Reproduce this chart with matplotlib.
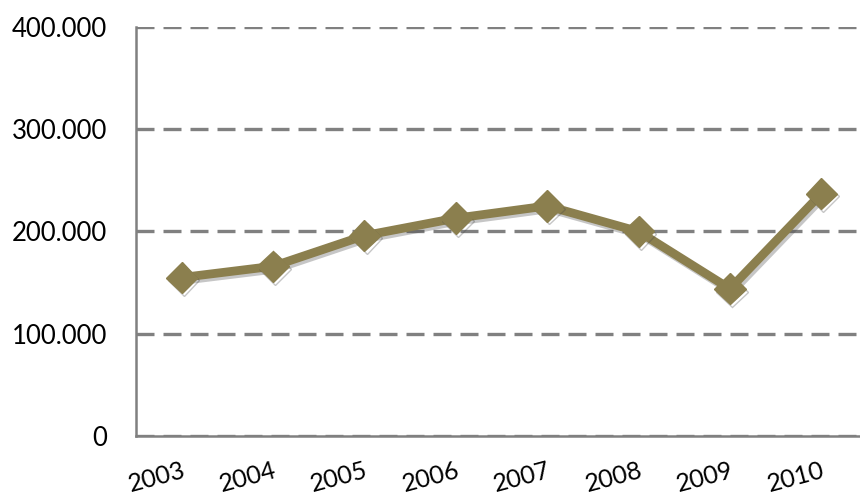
import matplotlib.pyplot as plt
import matplotlib.patheffects as pe
from matplotlib.ticker import FuncFormatter

# data
years = ['2003', '2004', '2005', '2006', '2007', '2008', '2009', '2010']
values = [155000, 166000, 196000, 213000, 225000, 200000, 144000, 237000]

plt.rcParams['font.family'] = ['Lato', 'DejaVu Sans']

fig = plt.figure(figsize=(8.6, 4.97), dpi=100)
ax = fig.add_axes([136 / 860, 1 - 436 / 497, 731 / 860, 409 / 497])

x = list(range(len(years)))
shadow = [pe.SimpleLineShadow(offset=(1.5, -2), shadow_color='#444444', alpha=0.3), pe.Normal()]
ax.plot(x, values, color='#8b7f4e', linewidth=6.3, marker='D', markersize=16,
        markerfacecolor='#8b7f4e', markeredgecolor='#8b7f4e', zorder=3,
        path_effects=shadow)

ax.set_xlim(-0.5, 7.5)
ax.set_ylim(0, 400000)
ax.set_yticks([0, 100000, 200000, 300000, 400000])
ax.yaxis.set_major_formatter(FuncFormatter(lambda v, p: '0' if v == 0 else f'{int(v):,}'.replace(',', '.')))
ax.set_xticks(x)
ax.set_xticklabels(years, rotation=15, ha='right', va='top', rotation_mode='anchor')

ax.yaxis.grid(True, color='#808080', linestyle=(0, (5.4, 2.7)), linewidth=2.4)
ax.set_axisbelow(True)
for s in ['top', 'right']:
    ax.spines[s].set_visible(False)
for s in ['left', 'bottom']:
    ax.spines[s].set_color('#808080')
    ax.spines[s].set_linewidth(1.8)

ax.tick_params(axis='y', length=0, pad=21, labelsize=18.5)
ax.tick_params(axis='x', length=0, pad=16, labelsize=18)

fig.savefig('out.png', dpi=100)
